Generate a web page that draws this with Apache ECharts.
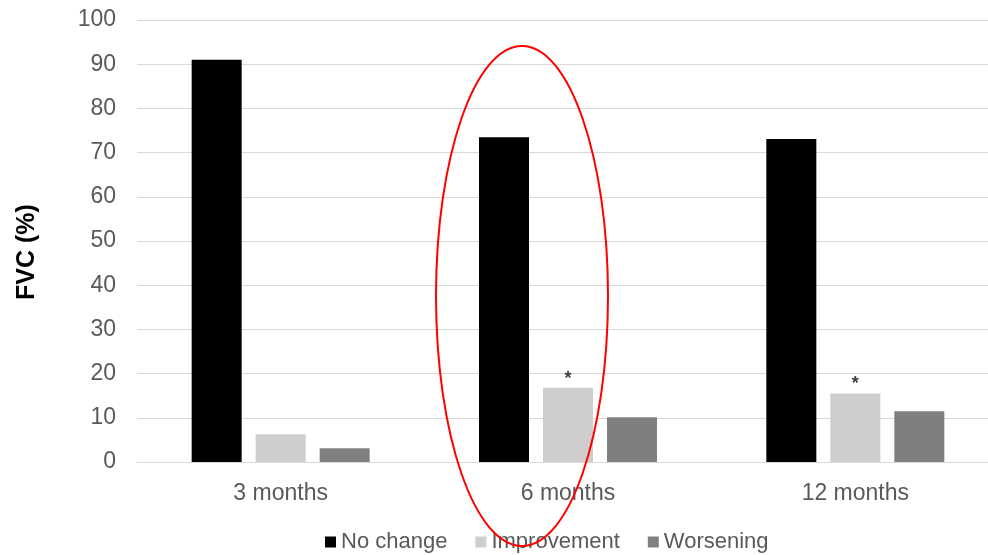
<!DOCTYPE html>
<html><head><meta charset="utf-8">
<script src="https://cdn.jsdelivr.net/npm/echarts@6/dist/echarts.min.js"></script>
<style>html,body{margin:0;padding:0;background:#fff}#c{width:988px;height:555px}</style>
</head><body><div id="c"></div>
<script>
const categories = ['3 months', '6 months', '12 months'];
const noChange = [91, 73.5, 73.1];
const improvement = [6.3, 16.8, 15.5];
const worsening = [3.1, 10.1, 11.5];
const improvementMarks = ['', '*', '*'];
const yTicks = {min: 0, max: 100, interval: 10};

const chart = echarts.init(document.getElementById('c'));
const font = 'Liberation Sans, Arial, sans-serif';
chart.setOption({
  animation: false,
  textStyle: {fontFamily: font},
  grid: {left: 137, width: 862, top: 20, bottom: 93, containLabel: false, outerBoundsMode: 'none'},
  legend: {
    bottom: -3, left: 320,
    itemWidth: 11, itemHeight: 11, itemGap: 28,
    icon: 'rect',
    textStyle: {fontSize: 22, color: '#595959', fontFamily: font},
    data: ['No change', 'Improvement', 'Worsening']
  },
  xAxis: {
    type: 'category', data: categories,
    axisLine: {lineStyle: {color: '#d9d9d9', width: 1}},
    axisTick: {show: false},
    axisLabel: {fontSize: 23, color: '#595959', margin: 20, fontFamily: font}
  },
  yAxis: {
    type: 'value', min: yTicks.min, max: yTicks.max, interval: yTicks.interval,
    name: 'FVC (%)', nameLocation: 'middle', nameGap: 97, nameRotate: 90,
    nameTextStyle: {fontSize: 25, fontWeight: 'bold', color: '#000', fontFamily: font, padding: [0, 22, 0, 0]},
    axisLine: {show: false}, axisTick: {show: false},
    axisLabel: {fontSize: 23, color: '#595959', margin: 21, fontFamily: font},
    splitLine: {lineStyle: {color: '#d9d9d9', width: 1}}
  },
  series: [
    {name: 'No change', type: 'bar', data: noChange, barWidth: 50, barGap: '28%', itemStyle: {color: '#000000'}},
    {name: 'Improvement', type: 'bar', data: improvement, barWidth: 50, barGap: '28%', itemStyle: {color: '#cfcdcd'},
      label: {show: true, position: 'top', distance: 0, fontSize: 18, fontWeight: 'bold', color: '#404040',
        formatter: p => improvementMarks[p.dataIndex]}},
    {name: 'Worsening', type: 'bar', data: worsening, barWidth: 50, barGap: '28%', itemStyle: {color: '#7f7f7f'}}
  ],
  graphic: [{
    type: 'ellipse', shape: {cx: 522, cy: 296, rx: 86, ry: 250},
    style: {fill: 'none', stroke: '#ff0000', lineWidth: 2}, z: 100
  }]
});
</script></body></html>
